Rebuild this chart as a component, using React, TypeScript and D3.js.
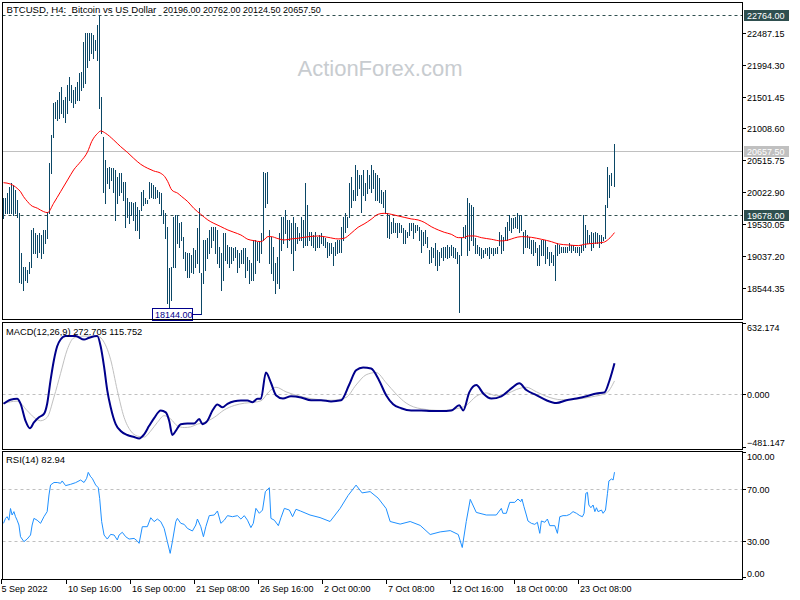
import React from 'react';
import * as d3 from 'd3';

// ---------- DATA ----------
const highs: number[] = [
  19930,19930,20007,20110,20171,20135,20058,19904,19698,19080,
  18874,18874,18823,18952,19440,19466,19389,19363,19389,19363,
  19440,19440,19724,20470,20908,21396,21422,21448,21577,21654,
  21448,21499,21680,21808,21680,21602,21654,21731,21860,21885,
  22349,22477,22477,22477,22477,22452,22374,22606,22764,21499,
  20882,20521,20393,20419,20393,20393,20367,20264,20316,20316,
  20187,20187,19930,19878,19878,19852,19878,19801,19749,20032,
  20058,19930,19904,20187,20161,20135,20110,20058,20032,20007,
  19749,19698,19492,18849,18874,19646,19672,19672,19543,19569,
  19338,19106,19080,19080,19055,19157,19132,19466,19775,18771,
  19286,19286,19312,19440,19492,19492,19492,19440,19183,19080,
  19389,19389,19209,19183,19183,19157,19183,19132,19080,19132,
  19157,19157,19029,18977,18926,19286,19286,19260,19260,19389,
  20341,20316,20341,19440,19338,19183,18926,19029,19389,19646,
  19646,19749,19595,19595,19543,19646,19543,19492,19389,19646,19595,
  20161,19827,19415,19415,19363,19415,19338,19363,19389,19338,
  19312,19260,19235,19235,19183,19260,19286,19286,19492,19647,
  19698,19647,20161,20264,20058,20444,20367,20290,20290,20367,
  20161,20367,20290,20444,20367,20316,20290,20238,20058,20033,
  20058,19698,19672,19569,19621,19544,19544,19544,19518,19466,
  19441,19415,19544,19544,19544,19518,19518,19492,19441,19415,
  19441,19338,19132,19183,19158,19235,19132,19106,19158,19183,
  19183,19209,19183,19209,19183,19158,19106,19055,19312,19492,
  19518,19930,19852,19827,19801,19312,19209,19183,19158,19132,
  19158,19158,19183,19158,19158,19158,19183,19415,19363,19338,
  19492,19569,19672,19621,19621,19647,19698,19672,19672,19415,
  19441,19363,19338,19286,19286,19260,19158,19209,19286,19286,
  19286,19183,19106,19106,19055,19209,19235,19209,19183,19183,
  19183,19183,19235,19209,19209,19183,19183,19183,19209,19672,
  19518,19441,19363,19415,19389,19415,19389,19363,19363,19338,
  19827,20419,20290,20316,20762
];
const lows: number[] = [
  19621,19698,19698,19698,19698,19672,19698,19646,18643,18617,
  18514,18669,18643,18771,18874,19080,19080,19029,19106,19003,
  19080,19235,19312,19698,20316,20882,21165,21139,21165,21242,
  21191,21113,21242,21448,21422,21345,21396,21448,21448,21602,
  21654,21705,21963,22066,22168,22091,22220,22066,21319,20933,
  20032,19852,20161,20084,20213,20032,19595,19852,19981,20032,
  19904,19492,19646,19543,19672,19595,19440,19440,19312,19749,
  19827,19852,19852,19930,19955,19930,19930,19955,19852,19672,
  19543,19312,18308,18257,18360,18874,18874,19235,19183,19286,
  19003,18823,18720,18720,18797,18771,18874,18926,18797,18144,
  18617,18823,19003,19080,19183,19286,19080,18926,18874,18514,
  18669,18977,18926,18874,18926,18977,19029,18797,18874,18926,
  18926,18720,18823,18617,18669,18669,18771,18977,18952,19080,
  19286,19801,19852,18926,18771,18669,18463,18617,18540,19132,
  19235,19389,19183,19286,19080,18823,19132,19235,19286,19286,19183,
  19209,19209,19286,19209,19183,19132,19183,19183,19235,19209,
  19183,19029,19055,19080,18900,19055,19080,19106,19106,19286,
  19415,19492,19647,19801,19904,19904,19981,20084,19724,19981,
  19904,20007,20084,20033,20084,19904,19904,19878,19852,19801,
  19698,19338,19312,19389,19415,19415,19338,19415,19415,19235,
  19235,19338,19363,19441,19312,19415,19441,19286,19106,19209,
  19235,19183,18926,18952,19029,18900,18823,18900,19029,18977,
  19029,19003,19029,19055,19029,19003,18926,18180,19055,19338,
  19312,19055,19132,19286,19209,19080,19080,19055,19003,19029,
  19080,19055,19003,19080,19055,19080,19080,19209,19080,19132,
  19286,19286,19441,19415,19466,19492,19466,19415,19441,19080,
  19183,19183,19158,19080,19055,19106,18900,18900,19055,19055,
  18926,19003,18900,18952,18900,18669,19055,19080,19106,19106,
  19106,19106,19132,19106,19132,19106,19106,19055,19106,19132,
  19183,19235,19235,19132,19183,19235,19235,19183,19235,19286,
  19312,19801,19955,20135,20124.5
];
// moving average (red) [barIndex, value]
const maLine: [number, number][] = [
  [0,20171],[3.5,20150],[6.8,20084],[8.5,20032],[10,19955],[12,19878],[13.5,19827],[17,19775],
  [20,19724],[22,19708],[25,19852],[28.5,20032],[32,20213],[35,20367],[38.5,20496],[42,20650],
  [44,20805],[47,20933],[48.5,20969],[51,20933],[55,20830],[58.5,20727],[62,20635],[65,20547],
  [68.5,20455],[72,20393],[75,20352],[78.5,20316],[80.5,20264],[82,20187],[84,20058],[87,20007],
  [89,19955],[92,19878],[95,19775],[98.5,19682],[102,19595],[105,19543],[108.5,19492],[112,19440],
  [115,19405],[118.5,19363],[122,19296],[125,19276],[128.5,19260],[130,19286],[132,19338],
  [133.5,19338],[137,19307],[140,19286],[143.5,19302],[147,19312],[150,19327],[157,19348],
  [162,19327],[167,19302],[170,19312],[173.5,19389],[177,19482],[180,19533],[183.5,19605],
  [187,19683],[190,19698],[193.5,19683],[197,19657],[200,19636],[203.5,19611],[207,19595],
  [210,19559],[213.5,19492],[217,19441],[220,19405],[223.5,19374],[227,19322],[229.5,19322],
  [232,19348],[235,19348],[238.5,19322],[243.5,19297],[248.5,19271],[252,19286],[255,19317],
  [258.5,19338],[263.5,19327],[268.5,19297],[273.5,19260],[277,19225],[282,19209],[287,19199],
  [290,19219],[295,19235],[299.5,19250],[302,19297],[305,19400]
];
const macdMain: [number, number][] = [
  [0,-86],[3.5,-50],[6.8,-41],[8.5,-84],[11,-236],[13.2,-302],[15.2,-251],[17.7,-206],[20.2,-176],
  [21.8,-86],[23.5,123],[25.2,303],[26.8,422],[28.5,482],[31,512],[36,512],[40.2,482],[42.7,497],
  [46.8,512],[48.5,422],[50.2,242],[51.8,33],[53.5,-117],[56,-266],[58.5,-326],[61.8,-362],
  [65.2,-380],[67.7,-392],[70.2,-356],[72.7,-281],[75.2,-212],[78.5,-146],[81,-162],[82.7,-236],
  [84.3,-362],[86,-326],[88.5,-266],[91.8,-260],[95.2,-260],[97.7,-221],[99.3,-266],[101.8,-236],
  [104.3,-146],[106.8,-92],[109.3,-117],[111.8,-86],[115.2,-63],[118.5,-57],[121.8,-57],[124.3,-72],
  [126.8,-41],[128.5,-41],[131,190],[133.5,100],[136,-10],[139.5,-40],[143.5,-20],[148.5,-30],
  [153.5,-55],[158.5,-55],[163.5,-65],[168.5,-55],[172.5,80],[176,210],[179.5,235],[183.5,225],
  [187.5,120],[191,-10],[194.5,-90],[198.5,-125],[203.5,-145],[208.5,-145],[213.5,-150],
  [218.5,-150],[223.5,-145],[227.5,-100],[229.5,-145],[232.5,15],[236,80],[239.5,5],[243.5,-40],
  [248.5,-20],[253.5,50],[257.5,95],[261,35],[266,-10],[271,-55],[276,-80],[281,-55],[286,-40],
  [291,-20],[296,5],[300,15],[302.5,120],[305,272.705]
];
const macdSignal: [number, number][] = [
  [0,-81],[6.8,-63],[11.8,-146],[15.2,-206],[18.5,-236],[21.8,-206],[25.2,-27],[28.5,183],
  [31.8,392],[35.2,497],[40.2,512],[46.8,512],[49.3,482],[53.5,303],[56.8,33],[60.2,-206],
  [63.5,-326],[66.8,-371],[70.2,-380],[73.5,-326],[76.8,-251],[80.2,-191],[83.5,-221],[86.8,-281],
  [90.2,-296],[93.5,-290],[96.8,-266],[100.2,-251],[105.2,-206],[110.2,-140],[115.2,-101],
  [120.2,-81],[125.2,-72],[128.5,-60],[132.5,20],[136,60],[141,20],[146,-10],[153.5,-40],
  [163.5,-55],[171,-30],[176,80],[181,170],[186,190],[191,100],[196,0],[201,-80],[208.5,-130],
  [218.5,-145],[226,-130],[231,-100],[236,-20],[241,10],[246,-15],[251,0],[256,40],[261,60],
  [266,20],[271,-20],[278.5,-50],[286,-45],[293.5,-25],[301,10],[305,115.752]
];
const rsiLine: [number, number][] = [
  [0,43.6],[1,47.4],[1.8,48.7],[2.7,46],[3.5,55],[4.3,50],[5.2,52.6],[6,48.7],[6.8,46],[7.7,42.3],
  [8.5,33.3],[10.2,29.5],[11.8,31.5],[13.5,34.6],[14.3,42.3],[15.2,47.4],[16.8,46],[18.5,43.6],
  [20.2,48.7],[21.8,52.6],[22.7,65.4],[23.5,73.1],[25.2,75],[26.8,75],[28.5,74.4],[29.3,76.2],
  [31,72.6],[33.5,73.6],[36,74.9],[38.5,76.9],[40.2,75],[41.5,78.2],[42.3,82.8],[43.5,79.4],
  [44.3,78.2],[46,73.1],[47.3,71],[48,62.8],[49,44.9],[50.2,34.6],[51.8,31.5],[53.5,35.1],
  [55.2,34.6],[56.8,30.8],[57.7,34.6],[59.3,36.7],[61,33.3],[62.7,31.5],[65.2,32],[66.8,30],
  [67.7,28.2],[69.3,41],[71.8,41],[73.5,47.9],[75.2,44.9],[76.8,46.9],[78.5,44.9],[80.2,39.7],
  [81.8,29.5],[83.2,20.5],[84.3,29.5],[86,44.9],[86.8,47.4],[88.5,43.6],[90.2,42.8],[91.8,39.7],
  [94.3,37.7],[96,42.3],[96.8,46.9],[98.5,41],[99.8,33.3],[101,41],[102.7,49.5],[105.2,50],
  [106.8,53.1],[108.5,43.6],[110.2,46],[111.8,49.5],[114.3,48.7],[116.8,49.5],[118.5,46.9],
  [120.2,49.5],[121.8,46],[123.5,40.3],[124.7,43.6],[126,55.1],[127.7,51.3],[129.3,53.8],
  [130.7,67.9],[132.7,71],[133.5,47.4],[135.2,46],[137.2,41.8],[138.5,47.9],[140.2,55.1],
  [142.7,53.8],[144.3,48.7],[146,54.4],[148.2,53.1],[153,50],[158,48],[163,45],[168,55],[172,65],
  [176,73],[179,67],[183,68],[187,63],[191,55],[193,45],[198,43],[203,45],[208,42],[213,35],
  [218,37],[223,38],[227,35],[229,25],[231,45],[233,62],[236,52],[241,50],[246,50],
  [248.5,55.1],[249.3,51.3],[251,51.3],[252.7,59.7],[255.2,59.7],[256.8,62.3],[258.2,60.3],
  [258.8,62.3],[259.8,56.4],[261,50],[261.8,45.4],[263.5,43.6],[265.2,42.8],[266.5,44.4],
  [267.7,35.9],[268.5,45.4],[270.2,44.4],[271.5,46.9],[272.7,41.8],[275.2,41.8],[276.5,35.9],
  [277.7,48.7],[279.3,49.5],[281,49.5],[282.7,50.5],[284.3,52.6],[286,51.3],[287.7,49.5],
  [289,48.7],[289.8,51.3],[290.7,66.7],[291.5,67.4],[292.2,57.7],[293.2,55.6],[294.3,57.7],
  [295.2,52.6],[296,55.6],[296.8,52.6],[298.5,53.8],[299.3,51.3],[300.5,53.8],[301.5,66.7],
  [302.2,76.2],[303.5,77.7],[304.3,76.9],[305,82.94]
];
const priceTicks = [22487.15, 21994.30, 21501.45, 21008.60, 20515.75, 20022.90, 19530.05, 19037.20, 18544.35];
const timeLabels = ['5 Sep 2022', '10 Sep 16:00', '16 Sep 00:00', '21 Sep 08:00', '26 Sep 16:00', '2 Oct 00:00', '7 Oct 08:00', '12 Oct 16:00', '18 Oct 00:00', '23 Oct 08:00'];
const timeLabelBars = [0, 32, 64, 96, 128, 160, 192, 224, 256, 288];
const headerTitle = 'BTCUSD, H4:  Bitcoin vs US Dollar';
const headerOHLC = [20196.0, 20762.0, 20124.5, 20657.5];
const levelHigh = 22764.0;
const levelSupport = 19678.0;
const lastClose = 20657.5;
const lowMarker = { bar: 99, value: 18144.0 };
const macdTicks = [632.174, 0, -481.147];
const rsiTicks = [100, 70, 30, 0];

const FONT = '"Liberation Sans", Arial, sans-serif';
const BAR_COLOR = '#0b4766';
const DARK = '#2f4f4f';

export default function App() {
  const x = d3.scaleLinear().domain([0, 305]).range([3, 614]);
  const y = d3.scaleLinear().domain([18544.35, 22487.15]).range([288, 32.7]);
  const ym = d3.scaleLinear().domain([-481.147, 632.174]).range([448.5, 322.5]);
  const yr = d3.scaleLinear().domain([0, 100]).range([580, 450]);
  const px = (i: number) => Math.floor(x(i)) + 0.5;

  const maPath = d3.line<[number, number]>().x(d => x(d[0]) + 0.5).y(d => y(d[1])).curve(d3.curveMonotoneX)(maLine) || '';
  const macdPath = d3.line<[number, number]>().x(d => x(d[0]) + 0.5).y(d => ym(d[1])).curve(d3.curveMonotoneX)(macdMain) || '';
  const sigPath = d3.line<[number, number]>().x(d => x(d[0]) + 0.5).y(d => ym(d[1])).curve(d3.curveMonotoneX)(macdSignal) || '';
  const rsiPath = d3.line<[number, number]>().x(d => x(d[0]) + 0.5).y(d => yr(d[1])).curve(d3.curveLinear)(rsiLine) || '';

  const L = 2.5, R = 742.5;
  const fmt2 = d3.format('.2f');
  const fmt3 = d3.format('.3f');

  const boxLabel = (v: number, fill: string, key: string) => {
    const yy = Math.round(y(v));
    return (
      <g key={key}>
        <rect x={744} y={yy - 5} width={45} height={11} fill={fill} />
        <text x={747} y={yy + 3.5} fontSize={9} fill="#fff" fontFamily={FONT}>{fmt2(v)}</text>
      </g>
    );
  };

  const lowX = px(lowMarker.bar);
  const lowY = Math.round(y(lowMarker.value)) + 0.5;

  return (
    <svg width={800} height={600} style={{ position: 'absolute', left: 0, top: 0, background: '#fff' }} fontFamily={FONT}>
      <rect x={0} y={0} width={800} height={600} fill="#fff" />
      {/* watermark */}
      <text x={380} y={76} textAnchor="middle" fontSize={22} fill="#c8ccd0" fontFamily={FONT}>ActionForex.com</text>

      {/* main panel lines */}
      <line x1={L} x2={R} y1={Math.round(y(levelHigh)) + 0.5} y2={Math.round(y(levelHigh)) + 0.5} stroke={DARK} strokeDasharray="3,3" />
      <line x1={L} x2={R} y1={Math.round(y(levelSupport)) + 0.5} y2={Math.round(y(levelSupport)) + 0.5} stroke={DARK} strokeDasharray="3,3" />
      <line x1={L} x2={R} y1={Math.round(y(lastClose)) + 0.5} y2={Math.round(y(lastClose)) + 0.5} stroke="#c0c0c0" />

      {/* bars */}
      <g shapeRendering="crispEdges">
        {highs.map((h, i) => (
          <line key={i} x1={px(i)} x2={px(i)} y1={Math.round(y(h))} y2={Math.round(y(lows[i])) + 1} stroke={BAR_COLOR} strokeWidth={1} />
        ))}
      </g>
      <path d={maPath} fill="none" stroke="#ff0000" strokeWidth={1} />

      {/* low marker */}
      <line x1={192.5} x2={lowX} y1={lowY} y2={lowY} stroke="#00008b" />
      <rect x={152.5} y={lowY - 6} width={40} height={12} fill="#fff" stroke="#00008b" />
      <text x={155} y={lowY + 3.5} fontSize={9} fill="#00008b">{fmt2(lowMarker.value)}</text>

      {/* header */}
      <text x={6.5} y={13} fontSize={9.6} fill="#000" style={{ whiteSpace: 'pre' }}>{headerTitle}</text>
      <text x={163} y={13} fontSize={9} fill="#000" style={{ whiteSpace: 'pre' }}>{headerOHLC.map(v => fmt2(v)).join(' ')}</text>

      {/* MACD */}
      <line x1={L} x2={R} y1={Math.round(ym(0)) + 0.5} y2={Math.round(ym(0)) + 0.5} stroke="#c0c0c0" strokeDasharray="3,3" />
      <path d={sigPath} fill="none" stroke="#c0c0c0" strokeWidth={1} />
      <path d={macdPath} fill="none" stroke="#00008b" strokeWidth={2} />
      <text x={6} y={334.5} fontSize={9.3} fill="#000">MACD(12,26,9) 272.705 115.752</text>

      {/* RSI */}
      {[70, 30].map(v => (
        <line key={v} x1={L} x2={R} y1={Math.round(yr(v)) + 0.5} y2={Math.round(yr(v)) + 0.5} stroke="#c0c0c0" strokeDasharray="3,3" />
      ))}
      <path d={rsiPath} fill="none" stroke="#1e90ff" strokeWidth={1} />
      <text x={6} y={463} fontSize={9.5} fill="#000">RSI(14) 82.94</text>

      {/* panel frames */}
      <g fill="none" stroke="#000" strokeWidth={1} shapeRendering="crispEdges">
        <rect x={L} y={2.5} width={R - L} height={317} />
        <rect x={L} y={322.5} width={R - L} height={127} />
        <rect x={L} y={451.5} width={R - L} height={128} />
      </g>

      {/* price axis */}
      <g fontSize={9} fill="#000" shapeRendering="crispEdges">
        {priceTicks.map(v => {
          const yy = Math.round(y(v)) + 0.5;
          return (
            <g key={v}>
              <line x1={742} x2={746} y1={yy} y2={yy} stroke="#000" />
              <text x={747} y={yy + 3}>{fmt2(v)}</text>
            </g>
          );
        })}
      </g>
      {boxLabel(levelHigh, DARK, 'hi')}
      {boxLabel(levelSupport, DARK, 'sup')}
      {boxLabel(lastClose, '#c0c0c0', 'last')}

      {/* MACD axis */}
      <g fontSize={9} fill="#000">
        {macdTicks.map((v, k) => {
          const yy = k === 0 ? 323.5 : k === 2 ? 447.5 : Math.round(ym(v)) + 0.5;
          const ty = k === 0 ? 331 : k === 2 ? 446 : yy + 3;
          return (
            <g key={v}>
              <line x1={742} x2={746} y1={yy} y2={yy} stroke="#000" />
              <text x={747} y={ty}>{fmt3(v)}</text>
            </g>
          );
        })}
      </g>

      {/* RSI axis */}
      <g fontSize={9} fill="#000">
        {rsiTicks.map(v => {
          const yy = v === 100 ? 452.5 : v === 0 ? 577.5 : Math.round(yr(v)) + 0.5;
          const ty = v === 100 ? 460 : v === 0 ? 577 : yy + 3;
          return (
            <g key={v}>
              <line x1={742} x2={746} y1={yy} y2={yy} stroke="#000" />
              <text x={747} y={ty}>{fmt2(v)}</text>
            </g>
          );
        })}
      </g>

      {/* time axis */}
      <g fontSize={9} fill="#000">
        {timeLabelBars.map((b, k) => {
          const tx = Math.floor(x(b - 0.5)) + 0.5;
          return (
            <g key={b}>
              <line x1={tx} x2={tx} y1={579} y2={584} stroke="#000" />
              <text x={k === 0 ? 1.5 : tx + 1.5} y={592}>{timeLabels[k]}</text>
            </g>
          );
        })}
      </g>
    </svg>
  );
}
